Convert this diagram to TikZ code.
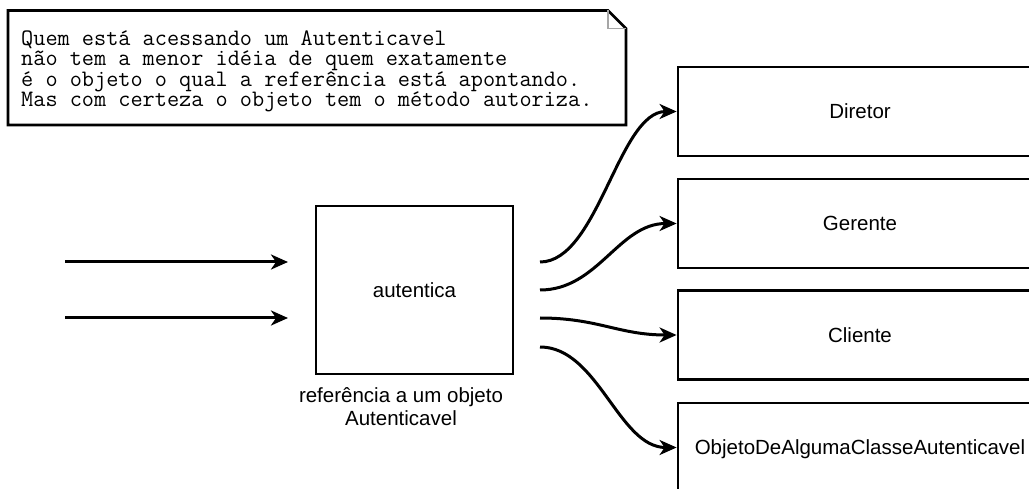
\documentclass[tikz,border=0pt]{standalone}
\usepackage{fontspec}
\setmainfont{Liberation Sans}
\DeclareRobustCommand\mynotefont{\ttfamily\fontsize{23.6}{20.5}\selectfont\lineskiplimit=-100pt\relax}
\usetikzlibrary{arrows.meta,calc}
\begin{document}
\begin{tikzpicture}[x=1pt,y=-1pt,
  box/.style={draw=black, line width=2.8pt, inner sep=0pt, text depth=0pt,
    font=\fontsize{20.5}{23}\selectfont},
  rbox/.style={box, minimum width=364pt, minimum height=89pt},
  lbl/.style={inner sep=0pt, align=center, font=\fontsize{20.5}{23}\selectfont},
  notetext/.style={inner sep=0pt, align=left, font=\mynotefont},
  noteline/.style={draw=black, line width=2.8pt, line join=miter},
  foldline/.style={draw=gray!70, line width=1.6pt},
  conn/.style={line width=3pt, -{Stealth[length=17pt,width=15pt,inset=5pt]}},
]
\useasboundingbox (0,0) rectangle (1029,489);
\clip (0,0) rectangle (1029,489);

% note
\draw[noteline] (8,10.5) -- (608,10.5) -- (626,28.5) -- (626,125) -- (8,125) -- cycle;
\draw[foldline] (608,10.5) -- (608,28.5) -- (626,28.5);
\node[notetext, anchor=base west] (note) at (21,107)
  {Quem está acessando um Autenticavel\\
   não tem a menor idéia de quem exatamente\\
   é o objeto o qual a referência está apontando.\\
   Mas com certeza o objeto tem o método autoriza.};

% central box
\node[box, minimum width=197pt, minimum height=168pt] (auth) at (414.5,290) {autentica};
\node[lbl, anchor=base] (authlbl) at (401,425) {referência a um objeto\\Autenticavel};

% right boxes
\node[rbox] (diretor) at (860,111.5) {Diretor};
\node[rbox] (gerente) at (860,223.5) {Gerente};
\node[rbox] (cliente) at (860,335) {Cliente};
\node[rbox] (objeto) at (860,447.5) {ObjetoDeAlgumaClasseAutenticavel};

% incoming arrows
\coordinate (in1s) at (65,262);
\coordinate (in1e) at (288,262);
\coordinate (in2s) at (65,318);
\coordinate (in2e) at (288,318);
\draw[conn] (in1s) -- (in1e);
\draw[conn] (in2s) -- (in2e);

% outgoing curves
\coordinate (o1) at (540,262);
\coordinate (o2) at (540,290);
\coordinate (o3) at (540,318);
\coordinate (o4) at (540,347);
\draw[conn] (o1) .. controls ($(o1)+(58,0)$) and ($(diretor.west)+(-58,0)$) .. (diretor.west);
\draw[conn] (o2) .. controls ($(o2)+(58,0)$) and ($(gerente.west)+(-58,0)$) .. (gerente.west);
\draw[conn] (o3) .. controls ($(o3)+(58,0)$) and ($(cliente.west)+(-58,0)$) .. (cliente.west);
\draw[conn] (o4) .. controls ($(o4)+(58,0)$) and ($(objeto.west)+(-58,0)$) .. (objeto.west);
\end{tikzpicture}
\end{document}
